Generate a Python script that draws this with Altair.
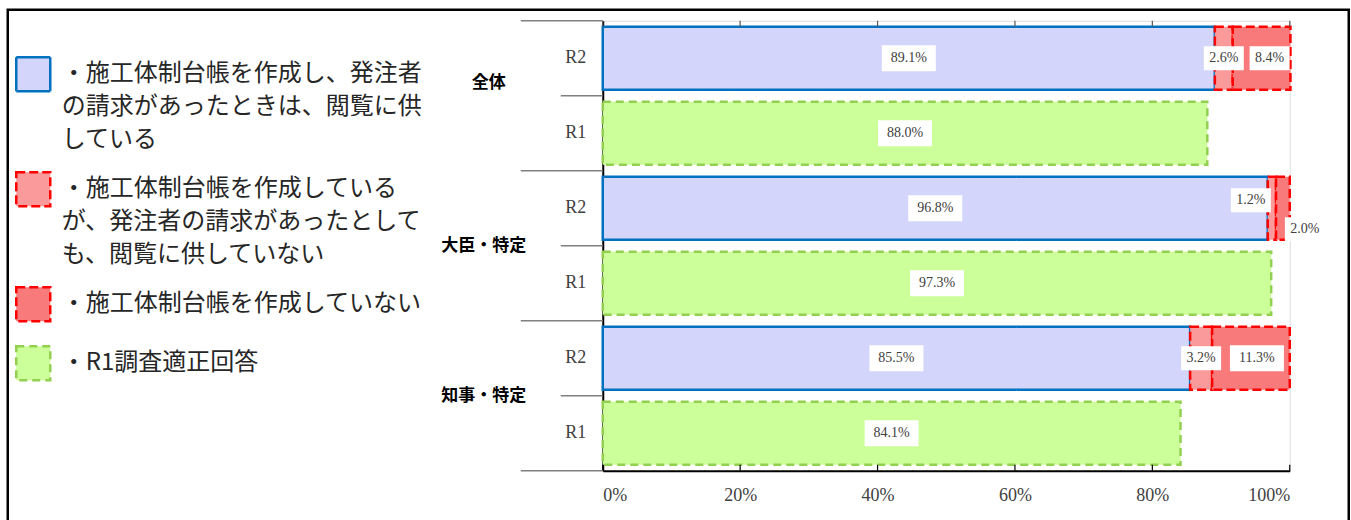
import altair as alt
import pandas as pd

# Categories
groups = ["全体", "大臣・特定", "知事・特定"]
surveys = ["R2", "R1"]

# R2 survey shares (%)
r2_provided = [89.1, 96.8, 85.5]
r2_not_provided = [2.6, 1.2, 3.2]
r2_not_prepared = [8.4, 2.0, 11.3]
# R1 survey share of proper answers (%)
r1_proper = [88.0, 97.3, 84.1]

series_labels = [
    "・施工体制台帳を作成し、発注者|の請求があったときは、閲覧に供|している",
    "・施工体制台帳を作成している|が、発注者の請求があったとして|も、閲覧に供していない",
    "・施工体制台帳を作成していない",
    "・R1調査適正回答",
]
x_ticks = [0, 20, 40, 60, 80, 100]

records = []
for i, g in enumerate(groups):
    for k, v in enumerate([r2_provided[i], r2_not_provided[i], r2_not_prepared[i]]):
        records.append({"group": g, "row": f"{g}|R2", "series": series_labels[k], "ord": k, "value": v})
    records.append({"group": g, "row": f"{g}|R1", "series": series_labels[3], "ord": 3, "value": r1_proper[i]})
df = pd.DataFrame(records)
row_order = [f"{g}|{s}" for g in groups for s in surveys]

SERIF = "Liberation Serif"
JP = "Noto Sans CJK JP"

y_scale = alt.Scale(domain=row_order, paddingInner=0.16, paddingOuter=0.08)
x_scale = alt.Scale(domain=[0, 100], nice=False)

fill_scale = alt.Scale(domain=series_labels, range=["#d3d6fa", "#fb9a9a", "#f97a7a", "#ccff99"])
stroke_scale = alt.Scale(domain=series_labels, range=["#0070c0", "#ff0000", "#ff0000", "#92d050"])
dash_scale = alt.Scale(domain=series_labels, range=[[1, 0], [9, 4], [9, 4], [8, 5]])

legend = alt.Legend(
    title=None, orient="none", legendX=-588, legendY=35,
    labelExpr="split(datum.label, '|')", labelLimit=0,
    labelFont=JP, labelFontSize=24, labelColor="#262626", labelBaseline="middle",
    labelOffset=10, rowPadding=14, symbolType="square", symbolSize=1156,
    symbolStrokeWidth=2.5, symbolOpacity=1, padding=0,
)

base = alt.Chart(df)

bars = base.mark_bar(strokeWidth=2.5).encode(
    x=alt.X(
        "value:Q", stack="zero", scale=x_scale,
        axis=alt.Axis(
            title=None, values=x_ticks, labelExpr="datum.value + '%'", grid=False,
            ticks=False, domainColor="black", domainWidth=2, labelFont=SERIF,
            labelFontSize=18, labelColor="#404040", labelPadding=16,
        ),
    ),
    y=alt.Y(
        "row:N", sort=row_order, scale=y_scale,
        axis=alt.Axis(
            title=None, labelExpr="split(datum.label, '|')[1]", ticks=False,
            domainColor="black", domainWidth=2, labelFont=SERIF, labelFontSize=18,
            labelColor="#404040", labelPadding=17,
        ),
    ),
    fill=alt.Fill("series:N", scale=fill_scale, legend=legend),
    stroke=alt.Stroke("series:N", scale=stroke_scale, legend=legend),
    strokeDash=alt.StrokeDash("series:N", scale=dash_scale, legend=legend),
    order=alt.Order("ord:Q"),
)

Y = alt.Y("row:N", sort=row_order, scale=y_scale, title=None)
Y0 = alt.Y("row:N", sort=row_order, scale=y_scale, title=None, bandPosition=0)
Y1 = alt.Y("row:N", sort=row_order, scale=y_scale, title=None, bandPosition=1)

# Inward tick marks on the bottom and top edges of the plot
tick_df = pd.DataFrame({"tick": x_ticks})
XT = alt.X("tick:Q", scale=x_scale, title=None)
bottom_ticks = alt.Chart(tick_df).mark_rule(color="black", strokeWidth=1.2).encode(
    x=XT, y=alt.value(450), y2=alt.value(444),
)
top_ticks = alt.Chart(tick_df).mark_rule(color="#595959", strokeWidth=1.2).encode(
    x=XT, y=alt.value(0), y2=alt.value(6),
)

# Value labels in white boxes at the middle of each segment
lab = base.transform_stack(
    stack="value", groupby=["row"], sort=[alt.SortField("ord")], as_=["x0", "x1"]
).transform_calculate(
    mid="(datum.x0 + datum.x1) / 2",
    label="format(datum.value, '.1f') + '%'",
    wide="length(format(datum.value, '.1f') + '%') > 4 ? 'w' : 'n'",
)

BOX_WIDE = "M-0.964,-0.464H0.964V0.464H-0.964Z"
BOX_NARROW = "M-0.714,-0.43H0.714V0.43H-0.714Z"


def value_labels(test, dx=0, dy=0):
    src = lab.transform_filter(test)
    x = alt.X("mid:Q", scale=x_scale, title=None)
    box = src.mark_point(
        filled=True, color="white", opacity=1, size=3136, strokeWidth=0,
        xOffset=dx, yOffset=dy,
    ).encode(
        x=x, y=Y,
        shape=alt.Shape("wide:N", scale=alt.Scale(domain=["w", "n"], range=[BOX_WIDE, BOX_NARROW]), legend=None),
    )
    txt = src.mark_text(
        font=SERIF, fontSize=14, color="#404040", xOffset=dx, yOffset=dy,
    ).encode(x=x, y=Y, text="label:N")
    return [box, txt]


# Labels nudged away from the segment centre: (row, segment, dx, dy)
nudged = [
    ("全体|R2", 2, 8, 0),
    ("大臣・特定|R2", 1, -21, -8),
    ("大臣・特定|R2", 2, 22, 21),
    ("知事・特定|R2", 2, 6, 0),
]
tests = [f"(datum.row == '{r}' && datum.ord == {k})" for r, k, _, _ in nudged]
labels = value_labels("!(" + " || ".join(tests) + ")")
for t, (_, _, dx, dy) in zip(tests, nudged):
    labels += value_labels(t, dx=dx, dy=dy)

# Group names on the left, near the R2/R1 boundary
grp_df = pd.DataFrame({"group": groups, "row": [f"{g}|R1" for g in groups]})
grp_style = dict(font=JP, fontSize=17, fontWeight="bold", color="black")
group_text = alt.Chart(grp_df).transform_filter("datum.group != '全体'").mark_text(
    yOffset=-6, **grp_style
).encode(x=alt.value(-119), y=Y0, text="group:N")
group_text_top = alt.Chart(grp_df).transform_filter("datum.group == '全体'").mark_text(
    yOffset=-19, **grp_style
).encode(x=alt.value(-114), y=Y0, text="group:N")

# Separator lines between groups (long) and between surveys (short)
long_df = pd.DataFrame({"row": [f"{g}|R1" for g in groups]})
top_df = pd.DataFrame({"row": [row_order[0]]})
short_df = pd.DataFrame({"row": [f"{g}|R2" for g in groups]})
rule_style = dict(color="#808080", strokeWidth=1.5)
long_rules = alt.Chart(long_df).mark_rule(yOffset=6, **rule_style).encode(
    x=alt.value(-82), x2=alt.value(0), y=Y1,
)
top_rule = alt.Chart(top_df).mark_rule(yOffset=-6, **rule_style).encode(
    x=alt.value(-82), x2=alt.value(0), y=Y0,
)
short_rules = alt.Chart(short_df).mark_rule(yOffset=6, **rule_style).encode(
    x=alt.value(-42), x2=alt.value(0), y=Y1,
)

# Outer frame of the figure
frame = alt.Chart(pd.DataFrame({"k": [0]})).mark_rect(
    fillOpacity=0, stroke="black", strokeWidth=2.5,
).encode(
    x=alt.value(-595), x2=alt.value(746), y=alt.value(-11), y2=alt.value(515),
)

chart = alt.layer(
    bars, frame, bottom_ticks, top_ticks, long_rules, top_rule, short_rules,
    *labels, group_text, group_text_top,
).properties(
    width=687, height=450,
    padding={"left": 5.75, "top": 7.75, "right": 0, "bottom": 0},
).configure_view(
    stroke="#8c8c8c", strokeWidth=2,
).configure(
    style={"guide-label": {"lineHeight": 33}},
)

chart.save("out.html", embed_options={"renderer": "svg", "actions": False})
